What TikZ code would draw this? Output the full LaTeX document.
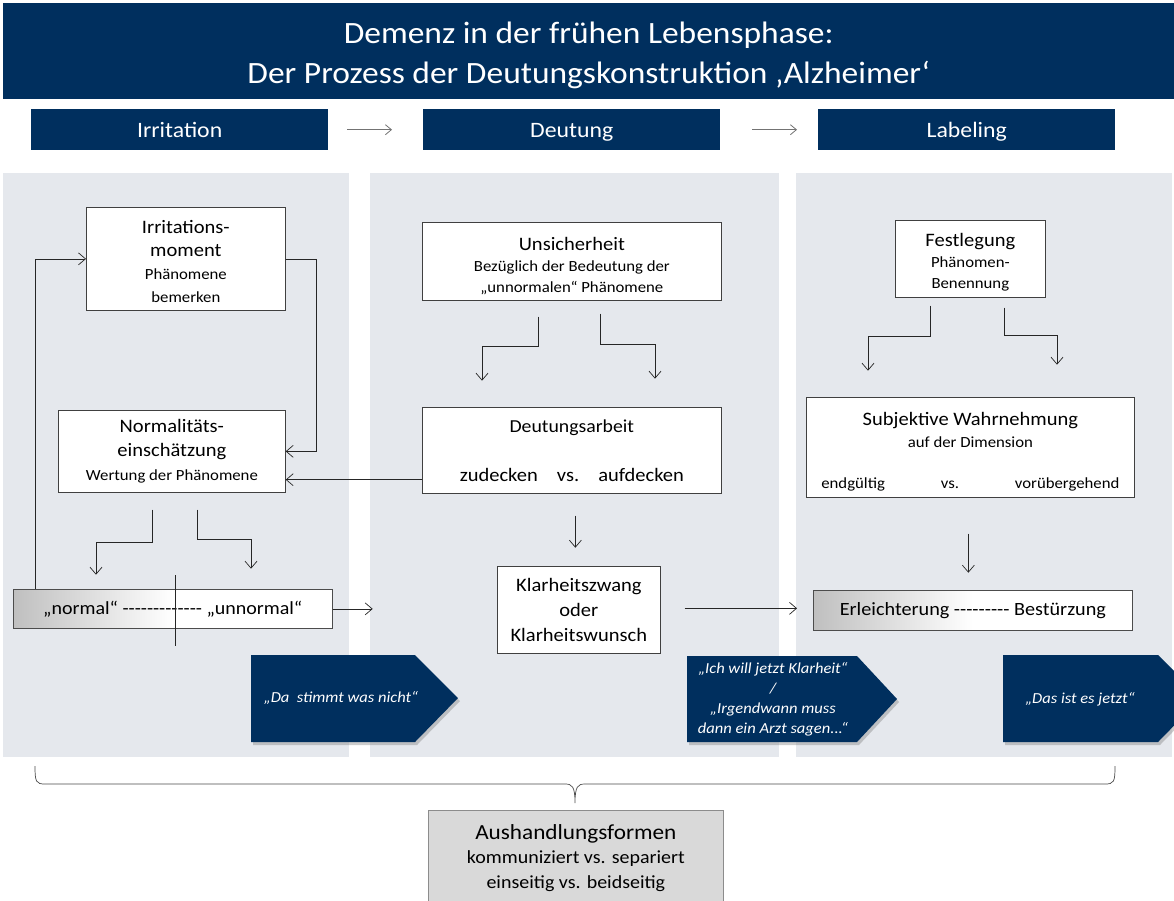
\documentclass[tikz,border=0pt]{standalone}
\usepackage{fontspec}
\setmainfont{Carlito}[Ligatures=TeXOff,FakeStretch=1.08]
\usetikzlibrary{arrows.meta,shadows,calc}
\definecolor{navy}{RGB}{0,47,94}
\definecolor{panelgray}{RGB}{229,232,237}
\definecolor{lbox}{RGB}{217,217,217}
\newcommand\fsz[2]{\fontsize{#1}{#2}\selectfont}
\begin{document}
\begin{tikzpicture}[x=1pt,y=-1pt,
  arr/.style={draw=black!85, line width=0.7pt, -{Straight Barb[length=7pt,width=12pt,line width=0.7pt]}},
  harr/.style={draw=black!55, line width=0.8pt, -{Straight Barb[length=6pt,width=10pt,line width=0.8pt]}},
  wbox/.style={draw=black!75, line width=0.7pt, fill=white, align=center, inner sep=0pt, anchor=north west},
  navybox/.style={fill=navy, text=white, align=center, inner sep=0pt, anchor=north west},
  hdr/.style={navybox, minimum width=297pt, minimum height=41pt, font=\fsz{22}{26}, text height=18pt, text depth=2pt},
  panel/.style={fill=panelgray, inner sep=0pt, anchor=north west},
  gradbar/.style={draw=black!70, line width=0.7pt, left color=black!25, right color=white, middle color=white, inner sep=0pt, anchor=north west},
  pent/.style={fill=navy, drop shadow={shadow xshift=2pt, shadow yshift=-3pt, opacity=0.4}},
  penttxt/.style={text=white, align=center, font=\fsz{15.3}{20}\itshape, inner sep=0pt},
]
\useasboundingbox (0,0) rectangle (1174,900);
\fill[white] (0,0) rectangle (1174,900);

% title and headers
\node[navybox, minimum width=1171pt, minimum height=96pt] (titlebar) at (3,3) {};
\node[text=white, align=center, inner sep=0pt, font=\fsz{31}{40}] (title) at ($(titlebar.center)+(0,4)$)
  {Demenz in der frühen Lebensphase:\\Der Prozess der Deutungskonstruktion ‚Alzheimer‘};
\node[hdr] (h1) at (31,109) {Irritation};
\node[hdr] (h2) at (423,109) {Deutung};
\node[hdr] (h3) at (818,109) {Labeling};
\draw[harr] ($(h1.east)+(19,0)$) -- ($(h2.west)+(-31,0)$);
\draw[harr] ($(h2.east)+(32,0)$) -- ($(h3.west)+(-21,0)$);

% panels
\node[panel, minimum width=346pt, minimum height=584pt] (p1) at (3,173) {};
\node[panel, minimum width=409pt, minimum height=584pt] (p2) at (370,173) {};
\node[panel, minimum width=376pt, minimum height=584pt] (p3) at (796,173) {};

% panel 1
\node[wbox, minimum width=199pt, minimum height=103pt, font=\fsz{19}{23}] (im) at (86,207)
  {\rule{0pt}{18pt}Irritations-\\moment\\\fsz{15.5}{21}Phänomene\\\fsz{15.5}{21}bemerken};
\node[wbox, minimum width=227pt, minimum height=82pt, font=\fsz{19}{24}] (ne) at (58,410)
  {Normalitäts-\\einschätzung\\\fsz{15.5}{22}Wertung der Phänomene};
\node[gradbar, minimum width=319pt, minimum height=39pt, font=\fsz{18.5}{22}] (nb) at (13,589)
  {„normal“ ------------- „unnormal“};
\draw[black!85, line width=0.7pt] ($(nb.north)+(2,-14)$) -- ($(nb.south)+(2,17)$);

\draw[arr] ($(nb.north west)+(22,0)$) |- (im.west);
\draw[arr] (im.east) -- ++(31,0) |- (ne.east);
\draw[arr] ($(ne.south west)+(94,17)$) -- ++(0,33) -| ++(-56,32);
\draw[arr] ($(ne.south west)+(139,17)$) -- ++(0,30) -| ++(54,29);
\draw[arr] (nb.east) -- ++(40,0);

\path[pent] (251,655) -- (415,655) -- (458,698) -- (415,742) -- (251,742) -- cycle;
\node[penttxt] (q1) at (341,698) {„Da\ \ stimmt was nicht“};

% panel 2
\node[wbox, minimum width=299pt, minimum height=78pt, font=\fsz{15.5}{21}] (un) at (422,222)
  {\fsz{19}{23}\rule{0pt}{22pt}Unsicherheit\\Bezüglich der Bedeutung der\\„unnormalen“ Phänomene};
\node[wbox, minimum width=299pt, minimum height=86pt, font=\fsz{19}{22}] (da) at (422,407)
  {\fsz{18.3}{22}Deutungsarbeit\\[27pt]zudecken\quad vs.\quad aufdecken};
\node[wbox, minimum width=163pt, minimum height=87pt, font=\fsz{19}{25}] (kz) at (497,566)
  {Klarheitszwang\\oder\\Klarheitswunsch};

\draw[arr] ($(un.south west)+(116,16)$) -- ++(0,30) -| ++(-56,34);
\draw[arr] ($(un.south west)+(178,13)$) -- ++(0,31) -| ++(55,34);
\coordinate (c1) at ($(da.south west)+(0,-14)$);
\draw[arr] (c1) -- (c1 -| ne.east);
\draw[arr] ($(da.south)+(3.5,22)$) -- ++(0,32);

\path[pent] (687,656) -- (857,656) -- (897,699) -- (857,742) -- (687,742) -- cycle;
\node[penttxt] (q2) at (773,699) {„Ich will jetzt Klarheit“\\/\\„Irgendwann muss\\dann ein Arzt sagen...“};

% panel 3
\node[wbox, minimum width=150pt, minimum height=77pt, font=\fsz{15.5}{21}] (fl) at (895,220)
  {\fsz{19}{23}\rule{0pt}{19pt}Festlegung\\Phänomen-\\Benennung};
\node[wbox, minimum width=328pt, minimum height=100pt, font=\fsz{15.5}{22}] (sw) at (806,397)
  {\fsz{19}{22}\rule{0pt}{21pt}Subjektive Wahrnehmung\\auf der Dimension\\[19pt]\makebox[298pt]{endgültig\hfill vs.\hfill vorübergehend}};
\node[gradbar, minimum width=319pt, minimum height=40pt, font=\fsz{18.7}{22}] (eb) at (813,590)
  {Erleichterung --------- Bestürzung};

\draw[arr] ($(fl.south west)+(35,8)$) -- ++(0,31) -| ++(-62,34);
\draw[arr] ($(fl.south west)+(109,10)$) -- ++(0,28) -| ++(53,29);
\draw[arr] ($(sw.south)+(-2,36)$) -- ++(0,39);
\coordinate (c2) at ($(kz.east)+(24,-1.5)$);
\draw[arr] (c2) -- ($(c2 -| eb.west)+(-16,0)$);

\path[pent] (1003,655) -- (1158,655) -- (1201,698) -- (1158,742) -- (1003,742) -- cycle;
\node[penttxt] (q3) at (1080,699) {„Das ist es jetzt“};

% brace and bottom box
\node[draw=black!45, line width=0.7pt, fill=lbox, align=center, inner sep=0pt, anchor=north west,
      minimum width=295pt, minimum height=95pt, font=\fsz{18.5}{24.5}] (ah) at (428,810)
  {\fsz{21.5}{27}Aushandlungsformen\\kommuniziert vs. separiert\\einseitig vs. beidseitig};
\coordinate (bl) at (35,766);
\coordinate (br) at (1115,766);
\coordinate (bt) at (575,803);
\draw[black!70, line width=0.7pt] (bl) .. controls (35,782) and (36,784) .. (45,784) -- (565,784)
  .. controls (572,784) and (575,786) .. (bt)
  .. controls (575,786) and (578,784) .. (585,784) -- (1105,784)
  .. controls (1114,784) and (1115,782) .. (br);
\end{tikzpicture}
\end{document}
